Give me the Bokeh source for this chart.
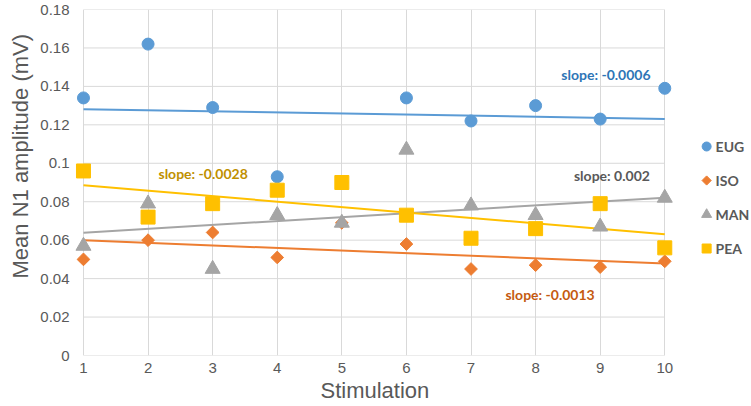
import numpy as np
from bokeh.plotting import figure
from bokeh.models import ColumnDataSource, FixedTicker, Range1d, Title
from bokeh.embed import file_html
from bokeh.resources import INLINE
from bokeh.core.properties import value

# ---------------- data ----------------
stimulation = [1, 2, 3, 4, 5, 6, 7, 8, 9, 10]
eug = [0.134, 0.162, 0.129, 0.093, 0.090, 0.134, 0.122, 0.130, 0.123, 0.139]
iso = [0.050, 0.060, 0.064, 0.051, 0.069, 0.058, 0.045, 0.047, 0.046, 0.049]
man = [0.057, 0.079, 0.045, 0.073, 0.069, 0.107, 0.078, 0.073, 0.067, 0.082]
pea = [0.096, 0.072, 0.079, 0.086, 0.090, 0.073, 0.061, 0.066, 0.079, 0.056]
series_names = ["EUG", "ISO", "MAN", "PEA"]
slope_texts = ["slope: -0.0006", "slope: -0.0013", "slope: 0.002", "slope: -0.0028"]
y_ticks = [0, 0.02, 0.04, 0.06, 0.08, 0.1, 0.12, 0.14, 0.16, 0.18]
y_tick_labels = ["0", "0.02", "0.04", "0.06", "0.08", "0.1", "0.12", "0.14", "0.16", "0.18"]
x_title = "Stimulation"
y_title = "Mean N1 amplitude (mV)"

# ---------------- styles / layout ----------------
series_values = [eug, iso, man, pea]
colors = ["#5B9BD5", "#ED7D31", "#A5A5A5", "#FFC000"]
label_colors = ["#2E75B6", "#C55A11", "#595959", "#BF9000"]
markers = ["circle", "square", "triangle", "square"]
marker_sizes = [12, 9, 15, 14]
legend_sizes = [9, 6.5, 10, 9]
marker_angles = [0, np.pi / 4, 0, 0]
GRID = "#D9D9D9"
TXT = "#595959"

W, H = 751, 406
BL, BR, BT, BB = 72, 0, 9, 51
PX_PER_X = 64.78
x_lo = 1 - (81 - BL) / PX_PER_X
x_hi = x_lo + (W - BL - BR) / PX_PER_X
y_lo, y_hi = 0, 0.18
PX_PER_Y = (H - BT - BB) / (y_hi - y_lo)
Y0_PX = H - BB  # pixel row of y = 0


def dx(px):  # pixel column -> data x
    return x_lo + (px - BL) / PX_PER_X


def dy(py):  # pixel row -> data y
    return (Y0_PX - py) / PX_PER_Y


label_pos = [(dx(605), dy(74)), (dx(549), dy(294)), (dx(611), dy(175)), (dx(201), dy(173))]
legend_marker_x = dx(706)
legend_text_x = dx(715)
legend_y = [dy(146), dy(180), dy(214), dy(248)]

p = figure(width=W, height=H, output_backend="svg", toolbar_location=None,
           x_range=Range1d(x_lo, x_hi), y_range=Range1d(y_lo, y_hi),
           min_border_left=BL, min_border_right=BR, min_border_top=BT, min_border_bottom=BB)
p.outline_line_color = None
p.background_fill_color = "white"
p.border_fill_color = "white"

# grid
p.ygrid.visible = False
p.xgrid.ticker = FixedTicker(ticks=stimulation)
p.xgrid.grid_line_color = GRID
p.xgrid.grid_line_width = 1
p.segment(x0=[min(stimulation)] * len(y_ticks), x1=[max(stimulation)] * len(y_ticks),
          y0=y_ticks, y1=y_ticks, line_color=GRID, line_width=1)

# axes
p.xaxis.ticker = FixedTicker(ticks=stimulation)
p.yaxis.ticker = FixedTicker(ticks=y_ticks)
p.yaxis.major_label_overrides = {t: l for t, l in zip(y_ticks, y_tick_labels)}
for ax in (p.xaxis[0], p.yaxis[0]):
    ax.axis_line_color = None
    ax.major_tick_line_color = None
    ax.minor_tick_line_color = None
    ax.major_tick_out = 0
    ax.major_tick_in = 0
    ax.major_label_text_font = "Liberation Sans"
    ax.major_label_text_font_size = "15px"
    ax.major_label_text_color = TXT
p.xaxis.major_label_standoff = 7
p.yaxis.major_label_standoff = 5

# axis titles as side titles, start-aligned with a pixel offset so that they sit
# where the reference puts them
xt = Title(text=x_title, align="left", offset=318 - BL, standoff=0,
           text_font="Liberation Sans", text_font_size="22px", text_font_style="normal",
           text_color=TXT)
p.add_layout(xt, "below")
yt = Title(text=y_title, align="left", offset=(H - BB) - 278, standoff=10,
           text_font="Liberation Sans", text_font_size="22px", text_font_style="normal",
           text_color=TXT)
p.add_layout(yt, "left")

# trend lines
for vals, c in zip(series_values, colors):
    k, b = np.polyfit(stimulation, vals, 1)
    xs = [min(stimulation), max(stimulation)]
    p.line(xs, [k * x + b for x in xs], line_color=c, line_width=2)

# markers
for vals, c, m, s, a in zip(series_values, colors, markers, marker_sizes, marker_angles):
    src = ColumnDataSource(dict(x=stimulation, y=vals))
    p.scatter("x", "y", source=src, marker=m, size=s, angle=a,
              fill_color=c, line_color=c, line_width=1)

# slope labels
lsrc = ColumnDataSource(dict(x=[q[0] for q in label_pos], y=[q[1] for q in label_pos],
                             text=slope_texts, color=label_colors))
p.text("x", "y", text="text", source=lsrc, text_color="color",
       text_font=value("Lato"), text_font_style="bold", text_font_size="14px",
       text_align="center", text_baseline="middle")

# legend (drawn beside the plot area)
for name, c, m, s, a, ly in zip(series_names, colors, markers, legend_sizes, marker_angles, legend_y):
    p.scatter([legend_marker_x], [ly], marker=m, size=s, angle=a, fill_color=c, line_color=c)
leg_src = ColumnDataSource(dict(x=[legend_text_x] * 4, y=legend_y, text=series_names))
p.text("x", "y", text="text", source=leg_src, text_color=TXT,
       text_font=value("Lato"), text_font_style="bold", text_font_size="14px",
       text_align="left", text_baseline="middle")

open("out.html", "w").write(file_html(p, INLINE))
